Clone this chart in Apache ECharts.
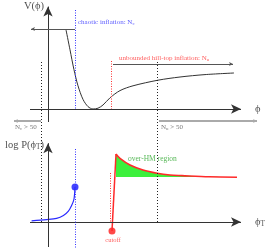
<!DOCTYPE html>
<html><head><meta charset="utf-8">
<script src="https://cdn.jsdelivr.net/npm/echarts@6/dist/echarts.min.js"></script>
<style>html,body{margin:0;padding:0;background:#fff}#c{width:265px;height:249px}</style>
</head><body><div id="c"></div>
<script>
// x: field value phi ; top panel: V(phi) ; bottom panel: log P(phi_T)
const vPhi   = [0.9, 1.1, 1.3, 1.5, 1.75, 2.0, 2.25, 2.5, 2.75, 3.1, 3.6, 4.25, 5.5, 6.6, 7.85, 9.3];
const vVal   = [0.99, 0.74, 0.49, 0.29, 0.12, 0.03, 0, 0.01, 0.05, 0.14, 0.23, 0.29, 0.36, 0.40, 0.43, 0.45];
const bluePhi  = [-0.82, -0.07, 0.43, 0.77, 1.02, 1.18, 1.3, 1.35];
const blueLogP = [0.03, 0.06, 0.09, 0.16, 0.27, 0.41, 0.575, 0.875];
const redPhi   = [3.4, 3.6, 4.1, 4.75, 5.45, 6.1, 6.7, 8.05, 9.45];
const redLogP  = [1.7, 1.59, 1.425, 1.3, 1.22, 1.175, 1.16, 1.13, 1.12];
const cutoffPoint = [3.2, -0.225];
const peakPoint = [3.4, 1.7];
const overHMBase = 1.125;
const chaoticPhi = 1.35;      // blue dotted
const hilltopPhi = 3.15;      // red dotted (top)
const cutoffDotPhi = 3.1;     // red dotted (bottom)
const n50Phi = [-0.35, 5.45]; // black dotted bounds
const phiRange = [-0.9, 9.65];

const SERIF = 'Liberation Serif, DejaVu Serif, serif';
const series = [];

function mline(from, to, yIdx, color, width, type, symbols, symSize) {
  series.push({
    type: 'line', yAxisIndex: yIdx, data: [from, to], showSymbol: false, silent: true,
    lineStyle: { width: 0, opacity: 0 }, itemStyle: { color: color },
    markLine: {
      silent: true, animation: false, symbol: symbols, symbolSize: symSize,
      label: { show: false }, emphasis: { disabled: true },
      itemStyle: { color: color },
      lineStyle: { color: color, width: width, type: type, opacity: 1 },
      data: [[{ coord: from }, { coord: to }]]
    }
  });
}
function txt(pt, yIdx, text, pos, color, size, rich) {
  series.push({
    type: 'scatter', yAxisIndex: yIdx, symbolSize: 0, silent: true,
    data: [pt],
    label: { show: true, position: pos, distance: 0, formatter: text, color: color,
      fontFamily: SERIF, fontSize: size, rich: rich || {} }
  });
}
function sub(size, color) {
  return { b: { fontSize: size, fontFamily: SERIF, color: color },
           s: { fontSize: size * 0.7, fontFamily: SERIF, color: color, padding: [size * 0.45, 0, 0, 0] } };
}

// top panel axes
mline([phiRange[0], 0], [phiRange[1], 0], 0, '#333', 1, 'solid', ['none', 'arrow'], [7, 10]);
mline([0, -0.1625], [0, 1.28], 0, '#333', 1, 'solid', ['none', 'arrow'], [7, 10]);
// bottom panel axes
mline([phiRange[0], 0], [phiRange[1], 0], 1, '#333', 1, 'solid', ['none', 'arrow'], [7, 10]);
mline([0, -0.625], [0, 1.97], 1, '#333', 1, 'solid', ['none', 'arrow'], [7, 10]);

// dotted guides
mline([chaoticPhi, 1.2375], [chaoticPhi, 0], 0, '#3333ff', 1, [1, 1.5], ['none', 'none'], 0);
mline([hilltopPhi, 0.6], [hilltopPhi, 0], 0, '#ff3333', 1, [1, 1.5], ['none', 'none'], 0);
mline([n50Phi[0], 0.5875], [n50Phi[0], -1.4125], 0, '#222', 1, [1, 2], ['none', 'none'], 0);
mline([n50Phi[1], 0.5875], [n50Phi[1], -1.4125], 0, '#222', 1, [1, 2], ['none', 'none'], 0);
mline([chaoticPhi, 1.825], [chaoticPhi, -0.65], 1, '#3333ff', 1, [1, 1.5], ['none', 'none'], 0);
mline([cutoffDotPhi, 1.225], [cutoffDotPhi, 0], 1, '#ff3333', 1, [1, 1.5], ['none', 'none'], 0);

// range arrows
mline([chaoticPhi, 1.0], [-0.85, 1.0], 0, '#555', 1, 'solid', ['none', 'arrow'], [3, 4]);
mline([3.25, 0.5625], [9.25, 0.5625], 0, '#555', 1.2, 'solid', ['none', 'arrow'], [3, 4]);
mline([-0.35, -0.15], [-1.7, -0.15], 0, '#aaa', 2, 'solid', ['none', 'arrow'], [3, 4]);
mline([5.55, -0.15], [10.45, -0.15], 0, '#aaa', 2, 'solid', ['none', 'arrow'], [3, 4]);

// potential curve
series.push({ type: 'line', yAxisIndex: 0, smooth: 0.3, showSymbol: false, silent: true,
  data: vPhi.map((p, i) => [p, vVal[i]]), lineStyle: { color: '#333', width: 1 } });

// blue distribution
series.push({ type: 'line', yAxisIndex: 1, smooth: 0.3, showSymbol: false, silent: true,
  data: bluePhi.map((p, i) => [p, blueLogP[i]]), lineStyle: { color: '#2a2aff', width: 1.2 } });
series.push({ type: 'scatter', yAxisIndex: 1, silent: true, symbolSize: 7,
  data: [[bluePhi[bluePhi.length - 1], blueLogP[blueLogP.length - 1]]], itemStyle: { color: '#1515ff' } });

// over-HM green area
series.push({ type: 'line', yAxisIndex: 1, smooth: 0.3, showSymbol: false, silent: true,
  data: redPhi.map((p, i) => [p, Math.max(redLogP[i], overHMBase)]),
  lineStyle: { width: 0, opacity: 0 },
  areaStyle: { color: '#3cf03c', origin: overHMBase, opacity: 1 } });
// red distribution
series.push({ type: 'line', yAxisIndex: 1, showSymbol: false, silent: true,
  data: [cutoffPoint, peakPoint], lineStyle: { color: '#ff2a2a', width: 1.5 } });
series.push({ type: 'line', yAxisIndex: 1, smooth: 0.3, showSymbol: false, silent: true,
  data: redPhi.map((p, i) => [p, redLogP[i]]), lineStyle: { color: '#ff2a2a', width: 1.6 } });
series.push({ type: 'scatter', yAxisIndex: 1, silent: true, symbolSize: 7,
  data: [cutoffPoint], itemStyle: { color: '#ff1a1a' } });

// texts
txt([-0.2, 1.29], 0, 'V(ϕ)', 'left', '#222', 10.5);
txt([10.35, 0], 0, 'ϕ', 'right', '#222', 10.5);
txt([1.5, 1.0875], 0, '{b|chaotic inflation: N}{s|c}', 'right', '#3333ff', 7, sub(7, '#3333ff'));
txt([3.55, 0.64], 0, '{b|unbounded hill-top inflation: N}{s|u}', 'right', '#ff3333', 7, sub(7, '#ff3333'));
txt([-1.65, -0.23], 0, '{b|N}{s|c}{b| > 50}', 'right', '#555', 7, sub(7, '#555'));
txt([5.65, -0.23], 0, '{b|N}{s|u}{b| > 50}', 'right', '#555', 7, sub(7, '#555'));
txt([-0.2, 1.925], 1, '{b|log P(ϕ}{s|T}{b|)}', 'left', '#222', 10.5, sub(10.5, '#222'));
txt([10.35, 0], 1, '{b|ϕ}{s|T}', 'right', '#222', 10.5, sub(10.5, '#222'));
txt([4.0, 1.575], 1, 'over-HM region', 'right', '#2fa82f', 7.5);
txt([3.25, -0.45], 1, 'cutoff', 'inside', '#ff3333', 6.5);

const chart = echarts.init(document.getElementById('c'), null, { renderer: 'canvas' });
chart.setOption({
  animation: false,
  backgroundColor: '#fff',
  grid: { left: 0, right: 0, top: 0, bottom: 0 },
  xAxis: { type: 'value', min: -2.4, max: 10.85, show: false },
  yAxis: [
    { type: 'value', min: -1.75, max: 1.3625, show: false },
    { type: 'value', min: -0.675, max: 5.55, show: false }
  ],
  series: series
});
</script></body></html>
